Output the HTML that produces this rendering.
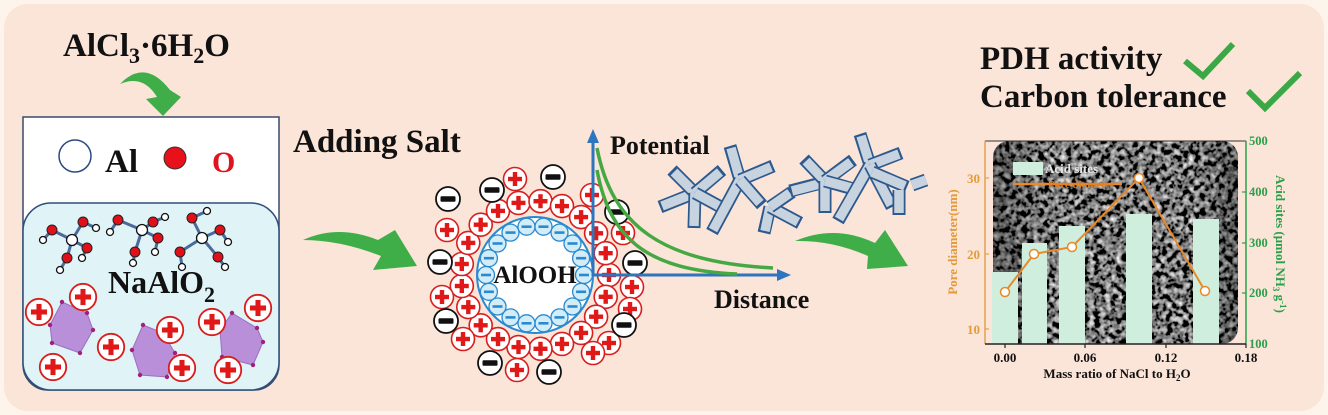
<!DOCTYPE html>
<html><head><meta charset="utf-8">
<style>
html,body{margin:0;padding:0;background:#fdf4ec;}
svg{display:block;}
text{font-family:"Liberation Serif",serif;font-weight:bold;}
</style></head>
<body>
<svg width="1328" height="415" viewBox="0 0 1328 415" xmlns="http://www.w3.org/2000/svg">
<defs>
  <g id="p"><circle r="11.5" fill="#fff" stroke="#d91e1e" stroke-width="1.6"/><rect x="-7" y="-2.2" width="14" height="4.4" fill="#e01818"/><rect x="-2.2" y="-7" width="4.4" height="14" fill="#e01818"/></g>
  <g id="m"><circle r="12" fill="#fff" stroke="#111" stroke-width="1.8"/><rect x="-7.5" y="-2.8" width="15" height="5.6" rx="1" fill="#111"/></g>
  <g id="b"><circle r="8.5" fill="#d2ecf8" stroke="#2a8ad0" stroke-width="1.3"/><rect x="-5" y="-1.3" width="10" height="2.6" fill="#2a8ad0"/></g>
  <filter id="sem" x="0" y="0" width="100%" height="100%">
    <feTurbulence type="fractalNoise" baseFrequency="0.18" numOctaves="2" seed="7"/>
    <feColorMatrix type="matrix" values="0.33 0.33 0.33 0 0 0.33 0.33 0.33 0 0 0.33 0.33 0.33 0 0 0 0 0 0 1"/>
    <feComponentTransfer>
      <feFuncR type="linear" slope="3.2" intercept="-1.4"/>
      <feFuncG type="linear" slope="3.2" intercept="-1.4"/>
      <feFuncB type="linear" slope="3.2" intercept="-1.4"/>
      <feFuncA type="linear" slope="0" intercept="1"/>
    </feComponentTransfer>
  </filter>
  <clipPath id="semclip"><rect x="993" y="141" width="245" height="203" rx="16"/></clipPath>
  <linearGradient id="vig" x1="0" x2="1" y1="0" y2="0">
    <stop offset="0" stop-color="#000" stop-opacity="0.35"/>
    <stop offset="0.25" stop-color="#000" stop-opacity="0"/>
    <stop offset="0.8" stop-color="#000" stop-opacity="0"/>
    <stop offset="1" stop-color="#000" stop-opacity="0.3"/>
  </linearGradient>
</defs>

<!-- background -->
<rect x="0" y="0" width="1328" height="415" fill="#fdf4ec"/>
<rect x="4" y="4" width="1320" height="407" rx="24" fill="#fbe4d8"/>

<!-- ============ LEFT PANEL ============ -->
<text x="63" y="56" font-size="33" fill="#111">AlCl<tspan font-size="22" dy="7">3</tspan><tspan dy="-7">·6H</tspan><tspan font-size="22" dy="7">2</tspan><tspan dy="-7">O</tspan></text>
<path d="M120,84 Q145,58 170,90 L181,97 L163,116 L146,99 L157,97 Q143,74 120,84 Z" fill="#3fae49"/>

<path d="M23,117 H279 V365 A25,25 0 0 1 254,390 H48 A25,25 0 0 1 23,365 Z" fill="#ffffff" stroke="#3a4a6a" stroke-width="1.5"/>
<rect x="23" y="203" width="256" height="187" rx="28" fill="#e0f4f7" stroke="#2d4f7a" stroke-width="1.5"/>

<circle cx="75" cy="156" r="16" fill="#fff" stroke="#2b4a80" stroke-width="1.5"/>
<text x="105" y="172" font-size="33" fill="#111">Al</text>
<circle cx="175" cy="158" r="11" fill="#e8101a" stroke="#333" stroke-width="1"/>
<text x="212" y="172" font-size="30" fill="#e0141e">O</text>

<!-- molecules -->
<g stroke="#4a6a9a" stroke-width="3">
  <line x1="72" y1="240" x2="52" y2="230"/><line x1="72" y1="240" x2="83" y2="222"/><line x1="72" y1="240" x2="87" y2="248"/><line x1="72" y1="240" x2="67" y2="258"/>
  <line x1="52" y1="230" x2="43" y2="240"/><line x1="83" y1="222" x2="96" y2="228"/><line x1="87" y1="248" x2="82" y2="258"/><line x1="67" y1="258" x2="60" y2="270"/>
  <line x1="142" y1="230" x2="118" y2="220"/><line x1="142" y1="230" x2="153" y2="222"/><line x1="142" y1="230" x2="158" y2="238"/><line x1="142" y1="230" x2="135" y2="252"/>
  <line x1="118" y1="220" x2="110" y2="232"/><line x1="153" y1="222" x2="165" y2="217"/><line x1="158" y1="238" x2="155" y2="252"/><line x1="135" y1="252" x2="133" y2="263"/>
  <line x1="202" y1="238" x2="192" y2="218"/><line x1="202" y1="238" x2="220" y2="230"/><line x1="202" y1="238" x2="180" y2="252"/><line x1="202" y1="238" x2="218" y2="257"/>
  <line x1="192" y1="218" x2="207" y2="211"/><line x1="220" y1="230" x2="228" y2="242"/><line x1="180" y1="252" x2="182" y2="267"/><line x1="218" y1="257" x2="225" y2="267"/>
</g>
<g fill="#fff" stroke="#111" stroke-width="1.3">
  <circle cx="72" cy="240" r="5.5"/><circle cx="142" cy="230" r="5.5"/><circle cx="202" cy="238" r="5.5"/>
  <circle cx="43" cy="240" r="3.5"/><circle cx="96" cy="228" r="3.5"/><circle cx="82" cy="258" r="3.5"/><circle cx="60" cy="270" r="3.5"/>
  <circle cx="110" cy="232" r="3.5"/><circle cx="165" cy="217" r="3.5"/><circle cx="155" cy="252" r="3.5"/><circle cx="133" cy="263" r="3.5"/>
  <circle cx="207" cy="211" r="3.5"/><circle cx="228" cy="242" r="3.5"/><circle cx="182" cy="267" r="3.5"/><circle cx="225" cy="267" r="3.5"/>
</g>
<g fill="#e0101a" stroke="#222" stroke-width="1">
  <circle cx="52" cy="230" r="5"/><circle cx="83" cy="222" r="5"/><circle cx="87" cy="248" r="5"/><circle cx="67" cy="258" r="5"/>
  <circle cx="118" cy="220" r="5"/><circle cx="153" cy="222" r="5"/><circle cx="158" cy="238" r="5"/><circle cx="135" cy="252" r="5"/>
  <circle cx="192" cy="218" r="5"/><circle cx="220" cy="230" r="5"/><circle cx="180" cy="252" r="5"/><circle cx="218" cy="257" r="5"/>
</g>

<text x="108" y="293" font-size="32" fill="#111">NaAlO<tspan font-size="22" dy="9">2</tspan></text>

<!-- polyhedra -->
<g fill="#b98fd9" stroke="#9a6fc0" stroke-width="1">
  <polygon points="62,302 87,313 93,330 80,353 52,343 50,325"/>
  <polygon points="143,325 163,333 175,353 167,377 140,375 132,350"/>
  <polygon points="232,313 257,328 263,342 253,365 222,357 220,330"/>
</g>
<g fill="#a0207a">
  <circle cx="62" cy="302" r="2.2"/><circle cx="87" cy="313" r="2.2"/><circle cx="93" cy="330" r="2.2"/><circle cx="80" cy="353" r="2.2"/><circle cx="52" cy="343" r="2.2"/><circle cx="50" cy="325" r="2.2"/>
  <circle cx="143" cy="325" r="2.2"/><circle cx="163" cy="333" r="2.2"/><circle cx="175" cy="353" r="2.2"/><circle cx="167" cy="377" r="2.2"/><circle cx="140" cy="375" r="2.2"/><circle cx="132" cy="350" r="2.2"/>
  <circle cx="232" cy="313" r="2.2"/><circle cx="257" cy="328" r="2.2"/><circle cx="263" cy="342" r="2.2"/><circle cx="253" cy="365" r="2.2"/><circle cx="222" cy="357" r="2.2"/><circle cx="220" cy="330" r="2.2"/>
</g>
<g>
  <use href="#p" transform="translate(39,312) scale(1.15)"/>
  <use href="#p" transform="translate(83,297) scale(1.15)"/>
  <use href="#p" transform="translate(170,330) scale(1.15)"/>
  <use href="#p" transform="translate(111,347) scale(1.15)"/>
  <use href="#p" transform="translate(53,367) scale(1.15)"/>
  <use href="#p" transform="translate(182,368) scale(1.15)"/>
  <use href="#p" transform="translate(212,322) scale(1.15)"/>
  <use href="#p" transform="translate(258,308) scale(1.15)"/>
  <use href="#p" transform="translate(228,370) scale(1.15)"/>
</g>

<!-- ============ MIDDLE ============ -->
<text x="293" y="152" font-size="33" fill="#111">Adding Salt</text>
<path d="M303,240 Q338,224 378,240 L395,230 L417,266 L373,270 L381,256 Q340,240 303,240 Z" fill="#3fae49"/>

<circle cx="535" cy="275" r="58" fill="#fff" stroke="#2a8ad0" stroke-width="2"/>
<g>
  <use href="#b" x="584" y="275"/><use href="#b" x="581.1" y="291.8"/><use href="#b" x="572.5" y="306.5"/><use href="#b" x="559.5" y="317.4"/>
  <use href="#b" x="543.5" y="323.3"/><use href="#b" x="526.5" y="323.3"/><use href="#b" x="510.5" y="317.4"/><use href="#b" x="497.5" y="306.5"/>
  <use href="#b" x="488.9" y="291.8"/><use href="#b" x="486" y="275"/><use href="#b" x="488.9" y="258.2"/><use href="#b" x="497.5" y="243.5"/>
  <use href="#b" x="510.5" y="232.6"/><use href="#b" x="526.5" y="226.7"/><use href="#b" x="543.5" y="226.7"/><use href="#b" x="559.5" y="232.6"/>
  <use href="#b" x="572.5" y="243.5"/><use href="#b" x="581.1" y="258.2"/>
</g>
<g>
  <use href="#p" x="609" y="275"/><use href="#p" x="605.7" y="296.8"/><use href="#p" x="596.1" y="316.7"/><use href="#p" x="581.1" y="332.9"/>
  <use href="#p" x="562" y="343.9"/><use href="#p" x="540.5" y="348.8"/><use href="#p" x="518.5" y="347.1"/><use href="#p" x="498" y="339.1"/>
  <use href="#p" x="480.7" y="325.3"/><use href="#p" x="468.3" y="307.1"/><use href="#p" x="461.8" y="286"/><use href="#p" x="461.8" y="264"/>
  <use href="#p" x="468.3" y="242.9"/><use href="#p" x="480.7" y="224.7"/><use href="#p" x="498" y="210.9"/><use href="#p" x="518.5" y="202.9"/>
  <use href="#p" x="540.5" y="201.2"/><use href="#p" x="562" y="206.1"/><use href="#p" x="581.1" y="217.1"/><use href="#p" x="596.1" y="233.3"/>
  <use href="#p" x="605.7" y="253.2"/>
</g>
<g>
  <use href="#p" x="515" y="179"/><use href="#p" x="447" y="230"/><use href="#p" x="442" y="297"/><use href="#p" x="463" y="339"/>
  <use href="#p" x="517" y="370"/><use href="#p" x="592" y="195"/><use href="#p" x="623" y="233"/><use href="#p" x="632" y="287"/>
  <use href="#p" x="630" y="309"/><use href="#p" x="609" y="343"/><use href="#p" x="593" y="353"/>
  <use href="#m" x="448" y="199"/><use href="#m" x="492" y="190"/><use href="#m" x="553" y="177"/><use href="#m" x="440" y="262"/>
  <use href="#m" x="446" y="321"/><use href="#m" x="490" y="363"/><use href="#m" x="549" y="372"/><use href="#m" x="617" y="212"/>
  <use href="#m" x="635" y="263"/><use href="#m" x="624" y="325"/>
</g>
<text x="535" y="283" font-size="25" fill="#111" text-anchor="middle">AlOOH</text>

<!-- potential plot -->
<g stroke="#2e75c0" stroke-width="3" fill="none">
  <line x1="593" y1="276" x2="593" y2="140"/>
  <line x1="592" y1="275" x2="780" y2="275"/>
</g>
<polygon points="593,129 587,143 599,143" fill="#2e75c0"/>
<polygon points="791,275 777,269 777,281" fill="#2e75c0"/>
<g stroke="#46a842" stroke-width="3.5" fill="none">
  <path d="M597,148 C612,225 660,262 773,268"/>
  <path d="M597,170 C610,240 648,270 737,274"/>
</g>
<text x="610" y="154" font-size="26" fill="#111">Potential</text>
<text x="714" y="308" font-size="26" fill="#111">Distance</text>

<!-- nanorods -->
<g stroke-linecap="butt">
  <g><line x1="695" y1="193" x2="660" y2="207" stroke="#2d5a8e" stroke-width="13"/><line x1="695" y1="193" x2="662" y2="206" stroke="#c8d3e0" stroke-width="9.5"/></g>
  <g><line x1="695" y1="193" x2="672" y2="170" stroke="#2d5a8e" stroke-width="13"/><line x1="695" y1="193" x2="674" y2="172" stroke="#c8d3e0" stroke-width="9.5"/></g>
  <g><line x1="695" y1="193" x2="722" y2="170" stroke="#2d5a8e" stroke-width="13"/><line x1="695" y1="193" x2="720" y2="172" stroke="#c8d3e0" stroke-width="9.5"/></g>
  <g><line x1="695" y1="193" x2="694" y2="228" stroke="#2d5a8e" stroke-width="13"/><line x1="695" y1="193" x2="694" y2="226" stroke="#c8d3e0" stroke-width="9.5"/></g>
  <g><line x1="695" y1="193" x2="730" y2="212" stroke="#2d5a8e" stroke-width="13"/><line x1="695" y1="193" x2="728" y2="211" stroke="#c8d3e0" stroke-width="9.5"/></g>

  <g><line x1="740" y1="180" x2="730" y2="146" stroke="#2d5a8e" stroke-width="13"/><line x1="740" y1="180" x2="731" y2="148" stroke="#c8d3e0" stroke-width="9.5"/></g>
  <g><line x1="740" y1="180" x2="773" y2="166" stroke="#2d5a8e" stroke-width="13"/><line x1="740" y1="180" x2="771" y2="167" stroke="#c8d3e0" stroke-width="9.5"/></g>
  <g><line x1="740" y1="180" x2="712" y2="232" stroke="#2d5a8e" stroke-width="13"/><line x1="740" y1="180" x2="713" y2="230" stroke="#c8d3e0" stroke-width="9.5"/></g>
  <g><line x1="740" y1="180" x2="762" y2="205" stroke="#2d5a8e" stroke-width="13"/><line x1="740" y1="180" x2="760" y2="203" stroke="#c8d3e0" stroke-width="9.5"/></g>

  <g><line x1="770" y1="207" x2="764" y2="233" stroke="#2d5a8e" stroke-width="13"/><line x1="770" y1="207" x2="765" y2="231" stroke="#c8d3e0" stroke-width="9.5"/></g>
  <g><line x1="770" y1="207" x2="800" y2="223" stroke="#2d5a8e" stroke-width="13"/><line x1="770" y1="207" x2="798" y2="222" stroke="#c8d3e0" stroke-width="9.5"/></g>
  <g><line x1="770" y1="207" x2="792" y2="192" stroke="#2d5a8e" stroke-width="13"/><line x1="770" y1="207" x2="790" y2="193" stroke="#c8d3e0" stroke-width="9.5"/></g>
  <g><line x1="790" y1="191" x2="825" y2="182" stroke="#2d5a8e" stroke-width="13"/><line x1="792" y1="191" x2="823" y2="183" stroke="#c8d3e0" stroke-width="9.5"/></g>

  <g><line x1="825" y1="181" x2="804" y2="159" stroke="#2d5a8e" stroke-width="13"/><line x1="825" y1="181" x2="806" y2="161" stroke="#c8d3e0" stroke-width="9.5"/></g>
  <g><line x1="825" y1="181" x2="853" y2="160" stroke="#2d5a8e" stroke-width="13"/><line x1="825" y1="181" x2="851" y2="162" stroke="#c8d3e0" stroke-width="9.5"/></g>
  <g><line x1="825" y1="181" x2="825" y2="213" stroke="#2d5a8e" stroke-width="13"/><line x1="825" y1="181" x2="825" y2="211" stroke="#c8d3e0" stroke-width="9.5"/></g>
  <g><line x1="825" y1="181" x2="857" y2="190" stroke="#2d5a8e" stroke-width="13"/><line x1="825" y1="181" x2="855" y2="189" stroke="#c8d3e0" stroke-width="9.5"/></g>

  <g><line x1="870" y1="165" x2="860" y2="134" stroke="#2d5a8e" stroke-width="13"/><line x1="870" y1="165" x2="861" y2="136" stroke="#c8d3e0" stroke-width="9.5"/></g>
  <g><line x1="870" y1="165" x2="901" y2="153" stroke="#2d5a8e" stroke-width="13"/><line x1="870" y1="165" x2="899" y2="154" stroke="#c8d3e0" stroke-width="9.5"/></g>
  <g><line x1="870" y1="165" x2="838" y2="221" stroke="#2d5a8e" stroke-width="13"/><line x1="870" y1="165" x2="839" y2="219" stroke="#c8d3e0" stroke-width="9.5"/></g>
  <g><line x1="870" y1="165" x2="892" y2="207" stroke="#2d5a8e" stroke-width="13"/><line x1="870" y1="165" x2="891" y2="205" stroke="#c8d3e0" stroke-width="9.5"/></g>
  <g><line x1="872" y1="172" x2="907" y2="187" stroke="#2d5a8e" stroke-width="13"/><line x1="872" y1="172" x2="905" y2="186" stroke="#c8d3e0" stroke-width="9.5"/></g>
  <g><line x1="899" y1="190" x2="899" y2="215" stroke="#2d5a8e" stroke-width="13"/><line x1="899" y1="190" x2="899" y2="213" stroke="#c8d3e0" stroke-width="9.5"/></g>
  <g><line x1="912" y1="185" x2="926" y2="180" stroke="#2d5a8e" stroke-width="13"/><line x1="912" y1="185" x2="926" y2="180" stroke="#c8d3e0" stroke-width="9.5"/></g>
</g>

<path d="M795,241 Q835,224 875,243 L885,230 L908,266 L867,269 L868,256 Q832,240 795,241 Z" fill="#3fae49"/>

<!-- ============ RIGHT ============ -->
<text x="980" y="69" font-size="33" fill="#111">PDH activity</text>
<text x="980" y="107" font-size="33" fill="#111">Carbon tolerance</text>
<polyline points="1185,61 1203,76 1233,44" fill="none" stroke="#3aa845" stroke-width="6"/>
<polyline points="1248,91 1265,108 1300,73" fill="none" stroke="#3aa845" stroke-width="6"/>

<!-- chart -->
<g clip-path="url(#semclip)">
  <rect x="993" y="141" width="245" height="203" fill="#5a5a5a" filter="url(#sem)"/>
  <rect x="993" y="141" width="245" height="203" fill="url(#vig)"/>
</g>
<g fill="#cfeedd">
  <rect x="992" y="272" width="26" height="72"/>
  <rect x="1022" y="243" width="25" height="101"/>
  <rect x="1059" y="226" width="26" height="118"/>
  <rect x="1126" y="214" width="26" height="130"/>
  <rect x="1193" y="219" width="26" height="125"/>
</g>
<polyline points="1005,292 1034,254 1072,247 1139,178 1205,291" fill="none" stroke="#e8892a" stroke-width="2"/>
<g fill="#fff" stroke="#e8892a" stroke-width="1.5">
  <circle cx="1005" cy="292" r="4.5"/><circle cx="1034" cy="254" r="4.5"/><circle cx="1072" cy="247" r="4.5"/><circle cx="1139" cy="178" r="4.5"/><circle cx="1205" cy="291" r="4.5"/>
</g>
<rect x="1013" y="162" width="30" height="13" fill="#cfeedd"/>
<text x="1045" y="173" font-size="13" fill="#e6e6e6" font-weight="normal">Acid sites</text>
<line x1="1013" y1="184" x2="1122" y2="184" stroke="#e8892a" stroke-width="2.5"/>
<text x="1048" y="188" font-size="11" fill="#e07d20">Pore diameter</text>

<line x1="985" y1="141" x2="1246" y2="141" stroke="#333" stroke-width="1"/>
<line x1="985" y1="141" x2="985" y2="344" stroke="#e5a050" stroke-width="1.5"/>
<line x1="1246" y1="141" x2="1246" y2="344" stroke="#2aa04a" stroke-width="1.5"/>
<line x1="985" y1="344" x2="1246" y2="344" stroke="#222" stroke-width="1.5"/>
<g stroke="#e5a050" stroke-width="1.2">
  <line x1="985" y1="178" x2="989" y2="178"/><line x1="985" y1="254" x2="989" y2="254"/><line x1="985" y1="329" x2="989" y2="329"/>
</g>
<g stroke="#2aa04a" stroke-width="1.2">
  <line x1="1242" y1="192" x2="1246" y2="192"/><line x1="1242" y1="243" x2="1246" y2="243"/><line x1="1242" y1="293" x2="1246" y2="293"/>
</g>
<g stroke="#222" stroke-width="1.2">
  <line x1="1005" y1="344" x2="1005" y2="348"/><line x1="1085" y1="344" x2="1085" y2="348"/><line x1="1166" y1="344" x2="1166" y2="348"/><line x1="1246" y1="344" x2="1246" y2="348"/>
</g>
<g font-size="13" fill="#e39b3a" text-anchor="end">
  <text x="980" y="183">30</text><text x="980" y="259">20</text><text x="980" y="334">10</text>
</g>
<text transform="translate(957,242) rotate(-90)" font-size="13" fill="#e39b3a" text-anchor="middle">Pore diameter(nm)</text>
<g font-size="12.5" fill="#2aa04a">
  <text x="1249" y="145">500</text><text x="1249" y="196">400</text><text x="1249" y="247">300</text><text x="1249" y="297">200</text><text x="1249" y="348">100</text>
</g>
<text transform="translate(1276,244) rotate(90)" font-size="13" fill="#2aa04a" text-anchor="middle">Acid sites (μmol NH<tspan font-size="9" dy="3">3</tspan><tspan dy="-3"> g</tspan><tspan font-size="9" dy="-4">-1</tspan><tspan dy="4">)</tspan></text>
<g font-size="13" fill="#111" text-anchor="middle">
  <text x="1005" y="362">0.00</text><text x="1085" y="362">0.06</text><text x="1166" y="362">0.12</text><text x="1246" y="362">0.18</text>
</g>
<text x="1117" y="378" font-size="13" fill="#111" text-anchor="middle">Mass ratio of NaCl to H<tspan font-size="9" dy="3">2</tspan><tspan dy="-3">O</tspan></text>
</svg>
</body></html>
